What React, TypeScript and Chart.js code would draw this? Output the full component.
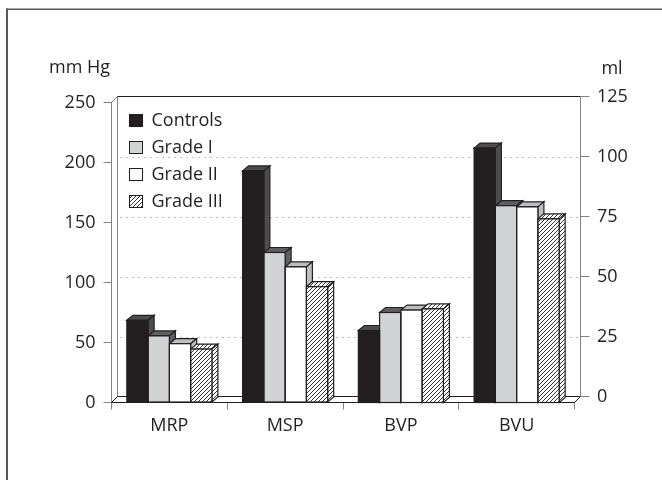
import { useEffect, useRef } from "react";
import { Chart, registerables } from "chart.js";

Chart.register(...registerables);

// Categories and series
const categories = ["MRP", "MSP", "BVP", "BVU"];
const seriesNames = ["Controls", "Grade I", "Grade II", "Grade III"];

// Pressures in mm Hg (left axis); volumes are null here
const controlsPressure = [68.5, 193, null, null];
const gradeIPressure = [55.5, 125, null, null];
const gradeIIPressure = [49, 113, null, null];
const gradeIIIPressure = [44.5, 96.5, null, null];

// Volumes in ml (right axis); pressures are null here
const controlsVolume = [null, null, 30, 106];
const gradeIVolume = [null, null, 37.5, 82];
const gradeIIVolume = [null, null, 38.5, 81.5];
const gradeIIIVolume = [null, null, 39, 76.5];

// Axis ticks
const pressureTicks = [0, 50, 100, 150, 200, 250];
const volumeTicks = [0, 25, 50, 75, 100, 125];
const pressureUnit = "mm Hg";
const volumeUnit = "ml";

const FONT = "'Open Sans', sans-serif";
const FONT_SIZE = 18;
const INK = "#231f20";
const AXIS_GRAY = "#808285";
const FRAME = "#58595b";

// depth offsets of the pseudo-3D walls and bars
const WALL_DX = 6;
const WALL_DY = -6;
const BAR_DX = 6;
const BAR_DY = -5;

const frontFills = ["#231f20", "#d1d3d4", "#ffffff"];
const shadeFills = ["#4d4d4f", "#5e5f61", "#bcbec0"];

function makeHatch(): CanvasPattern | string {
  const c = document.createElement("canvas");
  c.width = 4;
  c.height = 4;
  const g = c.getContext("2d");
  if (!g) return "#ffffff";
  g.fillStyle = "#ffffff";
  g.fillRect(0, 0, 4, 4);
  g.strokeStyle = INK;
  g.lineWidth = 0.9;
  g.beginPath();
  g.moveTo(0, 4);
  g.lineTo(4, 0);
  g.moveTo(-1, 1);
  g.lineTo(1, -1);
  g.moveTo(3, 5);
  g.lineTo(5, 3);
  g.stroke();
  return g.createPattern(c, "repeat") || "#ffffff";
}

function line(ctx: CanvasRenderingContext2D, x1: number, y1: number, x2: number, y2: number) {
  ctx.beginPath();
  ctx.moveTo(x1, y1);
  ctx.lineTo(x2, y2);
  ctx.stroke();
}

export default function App() {
  const ref = useRef<HTMLCanvasElement>(null);

  useEffect(() => {
    const canvas = ref.current;
    if (!canvas) return;
    const hatch = makeHatch();
    const fronts: (string | CanvasPattern)[] = [...frontFills, hatch];
    const shades: (string | CanvasPattern)[] = [...shadeFills, hatch];

    const pressure = [controlsPressure, gradeIPressure, gradeIIPressure, gradeIIIPressure];
    const volume = [controlsVolume, gradeIVolume, gradeIIVolume, gradeIIIVolume];

    const makeSet = (data: (number | null)[], i: number, axis: string) => ({
      label: seriesNames[i],
      data,
      yAxisID: axis,
      stack: seriesNames[i],
      backgroundColor: fronts[i],
      borderWidth: 0,
      categoryPercentage: 0.735,
      barPercentage: 1,
    });

    const datasets = [
      ...pressure.map((d, i) => makeSet(d, i, "y")),
      ...volume.map((d, i) => makeSet(d, i, "y2")),
    ];

    const barsOf = (chart: any) => {
      const out: { series: number; l: number; r: number; t: number; b: number }[] = [];
      chart.data.datasets.forEach((ds: any, di: number) => {
        const meta = chart.getDatasetMeta(di);
        meta.data.forEach((el: any, j: number) => {
          if (ds.data[j] == null) return;
          const p = el.getProps(["x", "y", "base", "width"], true);
          if (!isFinite(p.y)) return;
          out.push({ series: di % 4, l: p.x - p.width / 2, r: p.x + p.width / 2, t: p.y, b: p.base });
        });
      });
      return out;
    };

    const scenePlugin = {
      id: "scene3d",
      beforeDraw(chart: any) {
        const ctx: CanvasRenderingContext2D = chart.ctx;
        ctx.save();
        ctx.fillStyle = "#ffffff";
        ctx.fillRect(0, 0, chart.width, chart.height);
        // outer frame
        ctx.fillStyle = FRAME;
        ctx.fillRect(6, 8.5, 2, chart.height - 8.5);
        ctx.fillRect(6, 8.5, chart.width - 6, 1.5);
        // axis units
        ctx.fillStyle = INK;
        ctx.font = `${FONT_SIZE}px ${FONT}`;
        ctx.textBaseline = "alphabetic";
        ctx.textAlign = "left";
        ctx.fillText(pressureUnit, 49, 72.5);
        ctx.textAlign = "center";
        ctx.fillText(volumeUnit, 612, 74);
        ctx.restore();
      },
      beforeDatasetsDraw(chart: any) {
        const ctx: CanvasRenderingContext2D = chart.ctx;
        const { left, right, top, bottom } = chart.chartArea;
        const y = chart.scales.y;
        const y2 = chart.scales.y2;
        ctx.save();
        ctx.lineWidth = 1;

        // dotted gridlines on the back wall
        ctx.strokeStyle = AXIS_GRAY;
        ctx.setLineDash([1, 5]);
        pressureTicks.forEach((v) => {
          if (v === pressureTicks[0] || v === pressureTicks[pressureTicks.length - 1]) return;
          const py = Math.round(y.getPixelForValue(v) + WALL_DY) + 0.5;
          line(ctx, left + WALL_DX + 3, py, right + WALL_DX, py);
        });
        ctx.setLineDash([]);

        // back wall and floor edges
        ctx.strokeStyle = AXIS_GRAY;
        line(ctx, left, top, left + WALL_DX, top + WALL_DY);
        line(ctx, left + WALL_DX, top + WALL_DY, left + WALL_DX, bottom + WALL_DY);
        line(ctx, right + WALL_DX, top + WALL_DY, right + WALL_DX, bottom + WALL_DY);
        ctx.strokeStyle = INK;
        line(ctx, left + WALL_DX, top + WALL_DY, right + WALL_DX, top + WALL_DY);
        line(ctx, left + WALL_DX, bottom + WALL_DY, right + WALL_DX, bottom + WALL_DY);
        line(ctx, left, bottom, left + WALL_DX, bottom + WALL_DY);
        line(ctx, right, bottom, right + WALL_DX, bottom + WALL_DY);

        // right-hand volume axis on the back plane
        ctx.strokeStyle = AXIS_GRAY;
        ctx.fillStyle = INK;
        ctx.font = `${FONT_SIZE}px ${FONT}`;
        ctx.textAlign = "left";
        ctx.textBaseline = "middle";
        volumeTicks.forEach((v) => {
          const py = y2.getPixelForValue(v) + WALL_DY;
          line(ctx, right + WALL_DX, py, right + WALL_DX + 9, py);
          ctx.fillText(String(v), right + WALL_DX + 16.5, py);
        });

        // tops and sides of the bars
        ctx.strokeStyle = INK;
        ctx.lineWidth = 1.2;
        ctx.lineJoin = "miter";
        barsOf(chart).forEach((bar) => {
          const fill = shades[bar.series];
          ctx.fillStyle = fill as any;
          // top face
          ctx.beginPath();
          ctx.moveTo(bar.l, bar.t);
          ctx.lineTo(bar.l + BAR_DX, bar.t + BAR_DY);
          ctx.lineTo(bar.r + BAR_DX, bar.t + BAR_DY);
          ctx.lineTo(bar.r, bar.t);
          ctx.closePath();
          ctx.fill();
          ctx.stroke();
          // side face
          ctx.beginPath();
          ctx.moveTo(bar.r, bar.t);
          ctx.lineTo(bar.r + BAR_DX, bar.t + BAR_DY);
          ctx.lineTo(bar.r + BAR_DX, bar.b + BAR_DY);
          ctx.lineTo(bar.r, bar.b);
          ctx.closePath();
          ctx.fill();
          ctx.stroke();
        });
        ctx.restore();
      },
      afterDatasetsDraw(chart: any) {
        const ctx: CanvasRenderingContext2D = chart.ctx;
        const { left, top } = chart.chartArea;
        ctx.save();
        // outlines of the front faces
        ctx.strokeStyle = INK;
        ctx.lineWidth = 1.2;
        barsOf(chart).forEach((bar) => {
          ctx.strokeRect(bar.l, bar.t, bar.r - bar.l, bar.b - bar.t);
        });

        // legend inside the plot
        ctx.font = `${FONT_SIZE}px ${FONT}`;
        ctx.textAlign = "left";
        ctx.textBaseline = "middle";
        ctx.lineWidth = 1;
        seriesNames.forEach((name, i) => {
          const bx = left + 17.5;
          const by = top + 11.5 + i * 27;
          ctx.fillStyle = fronts[i] as any;
          ctx.fillRect(bx, by, 14, 13);
          ctx.strokeStyle = INK;
          ctx.strokeRect(bx + 0.5, by + 0.5, 13, 12);
          ctx.fillStyle = INK;
          ctx.fillText(name, left + 40, by + 6.5);
        });
        ctx.restore();
      },
    };

    const chart = new Chart(canvas, {
      type: "bar",
      data: { labels: categories, datasets: datasets as any },
      options: {
        responsive: false,
        animation: false,
        devicePixelRatio: 1,
        layout: { padding: { left: 0, top: 102.5, right: 87.5, bottom: 0 } },
        plugins: {
          legend: { display: false },
          tooltip: { enabled: false },
        },
        scales: {
          x: {
            grid: {
              drawOnChartArea: false,
              drawTicks: true,
              tickLength: 7,
              color: AXIS_GRAY,
            },
            border: { color: INK, width: 1 },
            ticks: {
              color: INK,
              font: { family: FONT, size: FONT_SIZE },
              padding: 6,
            },
            afterFit: (s: any) => {
              s.height = 77.5;
            },
          },
          y: {
            position: "left",
            min: pressureTicks[0],
            max: pressureTicks[pressureTicks.length - 1],
            stacked: false,
            grid: {
              drawOnChartArea: false,
              drawTicks: true,
              tickLength: 8,
              color: AXIS_GRAY,
            },
            border: { color: AXIS_GRAY, width: 1 },
            ticks: {
              stepSize: pressureTicks[1] - pressureTicks[0],
              color: INK,
              font: { family: FONT, size: FONT_SIZE },
              padding: 8,
            },
            afterFit: (s: any) => {
              s.width = 111.5;
            },
          },
          y2: {
            display: false,
            min: volumeTicks[0],
            max: volumeTicks[volumeTicks.length - 1],
            stacked: false,
          },
        },
      } as any,
      plugins: [scenePlugin],
    });

    return () => chart.destroy();
  }, []);

  return (
    <div style={{ position: "absolute", left: 0, top: 0, width: 662, height: 480 }}>
      <canvas ref={ref} width={662} height={480} style={{ display: "block" }} />
    </div>
  );
}
